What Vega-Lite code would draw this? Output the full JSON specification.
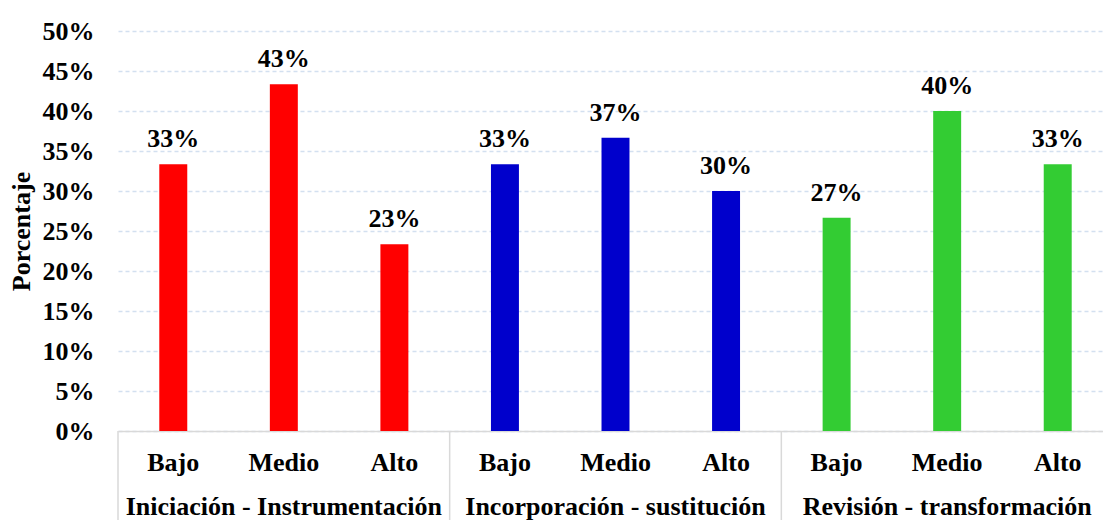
{
  "$schema": "https://vega.github.io/schema/vega-lite/v6.json",
  "width": 995,
  "height": 400,
  "autosize": {"type": "none"},
  "padding": {"left": 118, "top": 31, "right": 0, "bottom": 89},
  "background": "white",
  "config": {
    "view": {"stroke": null},
    "font": "Liberation Serif"
  },
  "datasets": {
    "bars": [
      {"key": "Iniciación - Instrumentación|Bajo", "grupo": "Iniciación - Instrumentación", "nivel": "Bajo", "valor": 0.3333},
      {"key": "Iniciación - Instrumentación|Medio", "grupo": "Iniciación - Instrumentación", "nivel": "Medio", "valor": 0.4333},
      {"key": "Iniciación - Instrumentación|Alto", "grupo": "Iniciación - Instrumentación", "nivel": "Alto", "valor": 0.2333},
      {"key": "Incorporación - sustitución|Bajo", "grupo": "Incorporación - sustitución", "nivel": "Bajo", "valor": 0.3333},
      {"key": "Incorporación - sustitución|Medio", "grupo": "Incorporación - sustitución", "nivel": "Medio", "valor": 0.3667},
      {"key": "Incorporación - sustitución|Alto", "grupo": "Incorporación - sustitución", "nivel": "Alto", "valor": 0.30},
      {"key": "Revisión - transformación|Bajo", "grupo": "Revisión - transformación", "nivel": "Bajo", "valor": 0.2667},
      {"key": "Revisión - transformación|Medio", "grupo": "Revisión - transformación", "nivel": "Medio", "valor": 0.40},
      {"key": "Revisión - transformación|Alto", "grupo": "Revisión - transformación", "nivel": "Alto", "valor": 0.3333}
    ],
    "seps": [
      {"key": "Iniciación - Instrumentación|Bajo", "valor": 0, "bottom": -0.12},
      {"key": "Incorporación - sustitución|Bajo", "valor": 0, "bottom": -0.12},
      {"key": "Revisión - transformación|Bajo", "valor": 0, "bottom": -0.12}
    ]
  },
  "encoding": {
    "x": {
      "field": "key", "type": "nominal",
      "scale": {
        "domain": [
          "Iniciación - Instrumentación|Bajo", "Iniciación - Instrumentación|Medio", "Iniciación - Instrumentación|Alto",
          "Incorporación - sustitución|Bajo", "Incorporación - sustitución|Medio", "Incorporación - sustitución|Alto",
          "Revisión - transformación|Bajo", "Revisión - transformación|Medio", "Revisión - transformación|Alto"
        ],
        "paddingInner": 0, "paddingOuter": 0
      },
      "axis": {
        "title": null,
        "labelAngle": 0,
        "labelExpr": "split(datum.value, '|')[1] == 'Medio' ? ['Medio', split(datum.value, '|')[0]] : split(datum.value, '|')[1]",
        "labelFont": "Liberation Serif",
        "labelFontWeight": "bold",
        "labelFontSize": 26,
        "labelColor": "black",
        "labelLineHeight": 44,
        "labelPadding": 18,
        "labelLimit": 600,
        "labelOverlap": false,
        "labelBound": false,
        "ticks": false,
        "domainColor": "#d9d9d9",
        "domainWidth": 1.5,
        "grid": false
      }
    },
    "y": {
      "field": "valor", "type": "quantitative",
      "scale": {"domain": [0, 0.5], "nice": false, "zero": true},
      "axis": {
        "title": "Porcentaje",
        "titleFont": "Liberation Serif",
        "titleFontWeight": "bold",
        "titleFontSize": 26,
        "titleColor": "black",
        "titlePadding": 8,
        "values": [0, 0.05, 0.1, 0.15, 0.2, 0.25, 0.3, 0.35, 0.4, 0.45, 0.5],
        "format": ".0%",
        "labelFont": "Liberation Serif",
        "labelFontWeight": "bold",
        "labelFontSize": 26,
        "labelColor": "black",
        "labelPadding": 24,
        "labelOverlap": false,
        "labelBound": false,
        "labelFlush": false,
        "ticks": false,
        "domain": false,
        "grid": true,
        "gridColor": "#d3e0f0",
        "gridWidth": 1.5,
        "gridDash": [4, 3]
      }
    }
  },
  "layer": [
    {
      "data": {"name": "bars"},
      "mark": {"type": "bar", "width": {"band": 0.253}},
      "encoding": {
        "color": {
          "field": "grupo", "type": "nominal",
          "scale": {
            "domain": ["Iniciación - Instrumentación", "Incorporación - sustitución", "Revisión - transformación"],
            "range": ["#ff0000", "#0000cc", "#33cc33"]
          },
          "legend": null
        }
      }
    },
    {
      "data": {"name": "bars"},
      "mark": {"type": "text", "baseline": "alphabetic", "dy": -17, "font": "Liberation Serif", "fontWeight": "bold", "fontSize": 26, "color": "black"},
      "encoding": {
        "text": {"field": "valor", "type": "quantitative", "format": ".0%"}
      }
    },
    {
      "data": {"name": "seps"},
      "mark": {"type": "rule", "color": "#d9d9d9", "strokeWidth": 1.5, "clip": false},
      "encoding": {
        "x": {"field": "key", "type": "nominal", "bandPosition": 0},
        "y2": {"field": "bottom"}
      }
    }
  ]
}
